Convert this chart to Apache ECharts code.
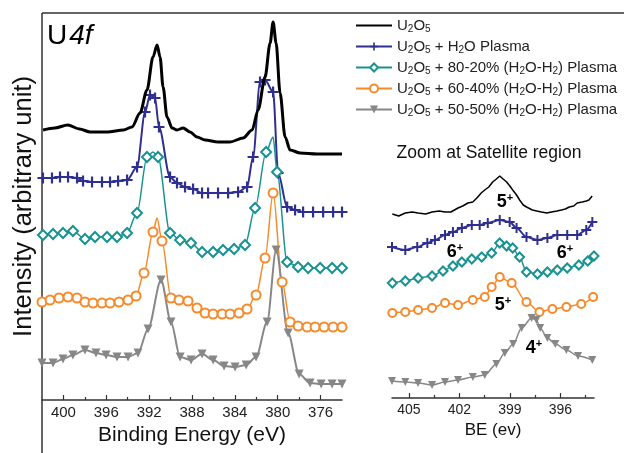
<!DOCTYPE html>
<html>
<head>
<meta charset="utf-8">
<script src="https://cdn.jsdelivr.net/npm/echarts@6/dist/echarts.min.js"></script>
<style>
  html, body { margin: 0; padding: 0; background: #fff; }
  #chart { width: 624px; height: 453px; }
</style>
</head>
<body>
<div id="chart"></div>
<script>
var FONT = '"Liberation Sans", Arial, Helvetica, sans-serif';

// series names (subscripts added by the legend formatter)
var names = [
    'U2O5',
    'U2O5 + H2O Plasma',
    'U2O5 + 80-20% (H2O-H2) Plasma',
    'U2O5 + 60-40% (H2O-H2) Plasma',
    'U2O5 + 50-50% (H2O-H2) Plasma'
];

// main panel tick labels (binding energy, eV)
var mainTicks = [400, 396, 392, 388, 384, 380, 376];
var mainMinor = [398, 394, 390, 386, 382, 378];
// zoom panel tick labels
var zoomTicks = [405, 402, 399, 396];
var zoomMinor = [403.5, 400.5, 397.5, 394.5];

// ---- main panel: [BE, intensity (offset, arb. unit)] ----
var u2o5Main = [
    [401.9,270],[400.8,272],[399.6,275],[398.5,271],[397.5,268],[395.9,268],[394.4,270],[393.6,273],
    [392.85,287],[392.2,310],[391.64,343],[391.26,355],[390.98,343],[390.7,313],[390.33,283],[389.86,272],
    [389.4,270],[388.83,272],[388.18,268],[387.53,263],[386.78,260],[385.57,258],[384.45,258],[383.23,262],
    [382.39,270],[381.83,290],[381.18,323],[380.71,357],[380.43,378],[380.15,357],[379.78,307],[379.31,263],
    [378.84,250],[377.91,247],[376.32,246],[374.0,246]
];
var h2oMain = [
    [401.91,222],[401.07,222],[400.32,223],[399.57,223],[398.73,222],[398.17,219],[397.33,218],[396.4,218],
    [395.65,218],[394.9,219],[394.06,220],[393.13,233],[392.38,288],[391.92,305],[391.45,302],[391.08,273],
    [390.05,223],[389.4,217],[388.65,213],[387.9,211],[387.06,207],[386.5,207],[385.57,207],[384.63,207],
    [383.7,208],[382.86,213],[382.3,243],[381.65,318],[381.18,320],[380.43,308],[379.96,227],[379.12,193],
    [378.38,190],[377.63,188],[376.7,188],[375.76,188],[374.83,188],[374.0,188]
];
var mix82Main = [
    [401.91,165],[400.97,166],[400.04,167],[399.11,169],[397.99,161],[397.05,163],[395.93,163],[395.0,163],
    [394.06,167],[393.13,187],[392.2,243],[391.17,243],[390.05,167],[389.11,160],[388.09,157],[387.06,148],
    [386.03,148],[385.1,150],[384.07,151],[383.05,155],[382.11,192],[381.08,248],[380.06,228],[379.12,138],
    [378.1,133],[377.16,132],[376.04,132],[374.92,132],[374.0,132]
];
var mix82MainPeaks = [[391.64,248],[380.43,263]];
var mix64Main = [
    [402.0,98],[401.25,100],[400.41,102],[399.57,103],[398.73,102],[397.99,98],[397.24,97],[396.4,97],
    [395.65,97],[394.81,98],[393.97,100],[393.22,104],[392.48,127],[391.64,168],[390.8,159],[389.96,102],
    [389.21,100],[388.37,99],[387.53,92],[386.78,87],[386.03,86],[385.19,86],[384.45,86],[383.61,87],
    [382.86,91],[382.02,105],[381.18,142],[380.43,207],[379.59,118],[378.84,78],[378.1,74],[377.26,73],
    [376.51,73],[375.67,73],[374.83,73],[374.0,73]
];
var mix64MainPeaks = [[391.26,182]];
var mix55Main = [
    [402.0,37],[400.97,37],[400.04,41],[399.11,45],[397.99,50],[396.96,47],[396.02,45],[395.0,43],
    [393.97,43],[393.04,47],[392.1,71],[390.89,120],[389.96,78],[389.11,43],[388.09,40],[387.06,46],
    [386.03,40],[385.01,34],[383.98,33],[382.95,35],[382.02,43],[380.99,78],[380.15,150],[379.03,67],
    [378.0,26],[376.98,17],[375.95,16],[374.92,16],[374.0,16]
];

// ---- satellite zoom panel ----
var u2o5Zoom = [
    [405.98,184],[405.6,182],[405.21,185],[404.8,186],[404.45,185],[404.0,184],[403.62,186],[403.2,187],
    [402.85,186],[402.5,186],[402.08,190],[401.8,192],[401.49,195],[401.2,196],[400.96,200],[400.7,205],
    [400.49,208],[400.25,211],[400.02,216],[399.8,219],[399.6,222],[399.4,219],[399.19,216],[399.0,212],
    [398.83,208],[398.6,203],[398.42,198],[398.2,193],[398.01,191],[397.66,188],[397.4,187],[397.12,186],
    [396.8,185],[396.53,186],[396.2,187],[395.94,188],[395.7,189],[395.47,191],[395.2,192],[395.0,195],
    [394.7,196],[394.46,197],[394.3,198],[394.11,202]
];
var h2oZoom = [
    [406.0,151],[405.21,148],[404.5,151],[403.9,155],[403.45,158],[402.85,163],[402.38,166],[401.85,170],
    [401.26,173],[400.79,173],[400.31,175],[399.6,178],[399.01,176],[398.6,170],[398.01,161],[397.36,158],
    [396.77,160],[396.18,163],[395.59,163],[395.0,163],[394.46,168],[394.1,176]
];
var mix82Zoom = [
    [405.98,115],[405.21,117],[404.45,120],[403.62,122],[402.97,127],[402.38,132],[401.85,136],[401.26,139],
    [400.67,141],[400.08,145],[399.6,155],[399.19,152],[398.83,150],[398.42,141],[398.01,126],[397.36,124],
    [396.77,126],[396.18,128],[395.59,130],[394.9,133],[394.37,137],[394.0,142]
];
var mix64Zoom = [
    [405.98,85],[405.21,86],[404.45,88],[403.62,90],[402.85,95],[402.08,93],[401.2,98],[400.49,101],
    [400.08,111],[399.6,121],[398.89,115],[398.01,96],[397.24,86],[396.47,89],[395.64,91],[394.76,94],
    [394.05,101]
];
var mix55Zoom = [
    [406.0,17],[405.21,16],[404.45,15],[403.62,13],[402.85,16],[402.08,18],[401.2,21],[400.49,23],
    [399.8,34],[399.3,45],[398.8,54],[398.3,70],[397.71,80],[397.42,78],[397.2,70],[396.77,60],
    [396.3,54],[395.64,48],[394.95,42],[394.1,38]
];

var colors = ['#000000', '#2e2f8f', '#1a9292', '#f58a2b', '#878787'];
var PLUS = 'path://M4,0H6V4H10V6H6V10H4V6H0V4H4Z';

// points listed in *Peaks arrays are drawn by the line only (no marker)
function withPeaks(points, peaks) {
    var out = points.map(function (p) { return { value: p }; });
    (peaks || []).forEach(function (p) { out.push({ value: p, symbol: 'none' }); });
    out.sort(function (a, b) { return b.value[0] - a.value[0]; });
    return out;
}

function sub(name) {
    return name.replace(/([UOH])(\d)/g, '$1{s|$2}');
}

function line(i, data, panel) {
    var main = panel === 0;
    var s = {
        name: names[i],
        type: 'line',
        xAxisIndex: main ? 0 : 2,
        yAxisIndex: main ? 0 : 1,
        data: data,
        showAllSymbol: true,
        smooth: 0.3,
        smoothMonotone: 'x',
        lineStyle: { color: colors[i], width: 1.5 },
        itemStyle: { color: colors[i] },
        emphasis: { disabled: true }
    };
    if (i === 0) {
        s.symbol = 'none';
        s.lineStyle.width = main ? 3 : 1.5;
        s.smooth = main ? 0.3 : false;
        s.z = 5;
    } else if (i === 1) {
        s.symbol = PLUS;
        s.symbolSize = main ? 11 : 10;
        s.lineStyle.width = 2;
    } else if (i === 2) {
        s.symbol = 'emptyDiamond';
        s.symbolSize = main ? 10 : 9;
    } else if (i === 3) {
        s.symbol = 'emptyCircle';
        s.symbolSize = main ? 9 : 8;
    } else {
        s.symbol = 'triangle';
        s.symbolRotate = 180;
        s.symbolSize = main ? 9 : 8;
        s.lineStyle.width = main ? 2 : 1.5;
    }
    return s;
}

function xAxisMajor(grid, min, max, ticks, name, labelSize, nameSize, nameGap) {
    return {
        type: 'value', gridIndex: grid, position: 'bottom', min: min, max: max, inverse: true,
        axisLine: { show: true, lineStyle: { color: '#333', width: 1.5 } },
        axisTick: { show: true, inside: true, length: 5, customValues: ticks, lineStyle: { color: '#333', width: 1.2 } },
        axisLabel: { customValues: ticks, fontSize: labelSize, color: '#222', margin: 5, fontFamily: FONT },
        splitLine: { show: false },
        name: name, nameLocation: 'middle', nameGap: nameGap,
        nameTextStyle: { fontSize: nameSize, color: '#111', fontFamily: FONT }
    };
}

function xAxisMinor(grid, min, max, ticks) {
    return {
        type: 'value', gridIndex: grid, position: 'bottom', min: min, max: max, inverse: true,
        axisLine: { show: false },
        axisTick: { show: true, inside: true, length: 3, customValues: ticks, lineStyle: { color: '#333', width: 1.2 } },
        axisLabel: { show: false },
        splitLine: { show: false }
    };
}

function annot(x, y, d) {
    return {
        type: 'text', x: x, y: y,
        style: {
            text: '{d|' + d + '}{p|+}',
            align: 'center', verticalAlign: 'middle',
            rich: {
                d: { fontSize: 18, fontWeight: 'bold', color: '#8c8c8c', fontFamily: FONT, lineHeight: 20 },
                p: { fontSize: 11, fontWeight: 'bold', color: '#8c8c8c', fontFamily: FONT, lineHeight: 8, verticalAlign: 'top' }
            }
        }
    };
}

var legendData = names.map(function (n, i) {
    // the plain U2O5 entry has no marker, only its thick line
    return i === 0 ? { name: n, itemStyle: { opacity: 0 } } : { name: n };
});

var chart = echarts.init(document.getElementById('chart'));
var option = {
    animation: false,
    backgroundColor: '#fff',
    grid: [
        { left: 42, top: 13, width: 300, height: 387 },
        { left: 392, top: 13, width: 202, height: 385 }
    ],
    xAxis: [
        xAxisMajor(0, 374, 402, mainTicks, 'Binding Energy (eV)', 15, 21, 18),
        xAxisMinor(0, 374, 402, mainMinor),
        xAxisMajor(1, 394, 406, zoomTicks, 'BE (ev)', 14, 17, 17),
        xAxisMinor(1, 394, 406, zoomMinor)
    ],
    yAxis: [
        {
            type: 'value', gridIndex: 0, min: 0, max: 387,
            axisLine: { show: false }, axisTick: { show: false }, axisLabel: { show: false },
            splitLine: { show: false },
            name: 'Intensity (arbitrary unit)', nameLocation: 'middle', nameGap: 5,
            nameTextStyle: { fontSize: 25.5, color: '#111', fontFamily: FONT }
        },
        { type: 'value', gridIndex: 1, min: 0, max: 385, show: false }
    ],
    legend: {
        orient: 'vertical', left: 355, top: 17, padding: 0,
        itemWidth: 36, itemHeight: 10, itemGap: 4,
        selectedMode: false,
        data: legendData,
        formatter: sub,
        textStyle: {
            fontFamily: FONT, fontSize: 15, color: '#222', lineHeight: 17,
            rich: {
                s: { fontFamily: FONT, fontSize: 10, color: '#222', lineHeight: 8, verticalAlign: 'bottom' }
            }
        }
    },
    graphic: [
        { type: 'line', shape: { x1: 42, y1: 13, x2: 42, y2: 453 }, style: { stroke: '#333', lineWidth: 1.5 } },
        { type: 'line', shape: { x1: 42, y1: 13, x2: 624, y2: 13 }, style: { stroke: '#333', lineWidth: 1.5 } },
        {
            type: 'text', x: 47, y: 22,
            style: {
                text: '{u|U}{f|4f}',
                rich: {
                    u: { fontSize: 28, color: '#111', fontFamily: FONT },
                    f: { fontSize: 28, color: '#111', fontFamily: FONT, fontStyle: 'italic', padding: [0, 0, 0, 2] }
                }
            }
        },
        {
            type: 'text', x: 489, y: 153,
            style: { text: 'Zoom at Satellite region', fontSize: 17.5, fill: '#111', fontFamily: FONT, align: 'center', verticalAlign: 'middle' }
        },
        annot(505, 202, '5'),
        annot(455, 252, '6'),
        annot(565, 253, '6'),
        annot(503, 305, '5'),
        annot(534, 348, '4')
    ],
    series: [
        line(0, u2o5Main, 0),
        line(1, withPeaks(h2oMain), 0),
        line(2, withPeaks(mix82Main, mix82MainPeaks), 0),
        line(3, withPeaks(mix64Main, mix64MainPeaks), 0),
        line(4, withPeaks(mix55Main), 0),
        line(0, u2o5Zoom, 1),
        line(1, h2oZoom, 1),
        line(2, mix82Zoom, 1),
        line(3, mix64Zoom, 1),
        line(4, mix55Zoom, 1)
    ]
};
chart.setOption(option);
</script>
</body>
</html>
